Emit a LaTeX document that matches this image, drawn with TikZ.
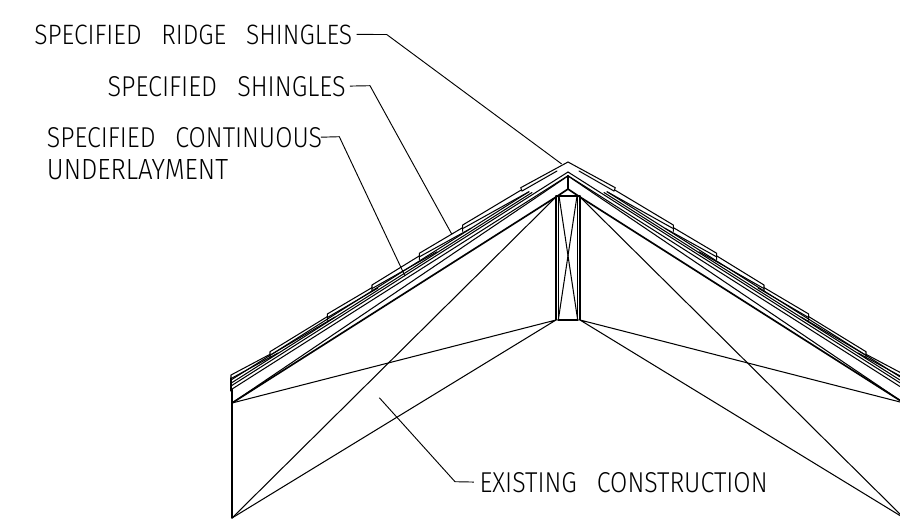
\documentclass[tikz,border=0pt]{standalone}
\usepackage{fontspec}
\usepackage{graphicx}
\setmainfont{Fira Sans Light}
\tikzset{
  px/.style={x=0.75pt,y=-0.75pt},
  thinline/.style={line width=0.78pt,line cap=round,line join=round},
  thickline/.style={line width=1.25pt,line cap=round,line join=round},
  lab/.style={inner sep=0pt,anchor=base west},
  leader/.style={line width=0.7pt,line join=round}
}
\newcommand{\lbl}[3]{\resizebox{#1\dimexpr0.75pt\relax}{#2\dimexpr0.75pt\relax}{#3}}
\newcommand{\wsp}{\hspace{0.8em}}
\newcommand{\halfroof}{%
  % shingles
  \foreach \sx/\sy/\nx/\ny/\ex/\ey in {231/375/270/351.7/278/353,270/351.7/327.3/314/335/317,327.3/314/372/285/378/288,372/285/419.3/253.3/437/251.7,419.3/253.3/462.7/225/471/228.3,462.7/225/520.7/187.7/529/191.7}{
    \draw[thinline] ({\sx},{\sy+3.3+3}) -- (\sx,\sy) -- ({\nx},{\ny+2.6});
    \draw[thinline] ({\sx+0.5},{\sy+3.3}) -- (\ex,\ey);
  }
  \draw[thinline] (522,191) -- (520.7,187.7) -- (568,162);
  \draw[thinline] (522,191) -- (557,171);
  % layers
  \draw[thinline] (568,172) -- (231,386);
  \draw[thinline] (568,175.7) -- (231,389.7);
  \draw[thinline] (231,380) -- (529,191.7);
  \draw[thinline] (231,383.2) -- (532,192.5);
  \draw[thinline] (231,378) -- (231,391);
  % chords
  \draw[thickline] (232,403) -- (556,197) -- (568,189);
  \draw[thinline] (232,403) -- (568,176);
  \draw[thinline] (232,518) -- (556,197);
  \draw[thinline] (232,403) -- (556,320) -- (232,518);
  \draw[thinline] (232,389) -- (232,518);
  % post
  \draw[thinline] (556,196) -- (556,320);
  \draw[thinline] (558.3,196) -- (558.3,320);
  \draw[thinline] (558.3,320) -- (577,196);
}
\begin{document}
\begin{tikzpicture}[px]
\useasboundingbox (0,0) rectangle (900,522);
\clip (0,0) rectangle (900,522);
\halfroof
\begin{scope}[shift={(1136,0)},xscale=-1]
\halfroof
\end{scope}
\draw[thickline] (568,175.7) -- (568,189);
\draw[thinline] (556,196) -- (580,196);
\draw[thickline] (558,320) -- (578,320);
% labels
\node[lab] (ridge) at (34,44) {\lbl{318}{19.5}{SPECIFIED\wsp RIDGE\wsp SHINGLES}};
\node[lab] (shing) at (107.3,96) {\lbl{238}{20}{SPECIFIED\wsp SHINGLES}};
\node[lab] (cont) at (46.7,147) {\lbl{275}{20}{SPECIFIED\wsp CONTINUOUS}};
\node[lab] (under) at (46.7,179) {\lbl{181}{20}{UNDERLAYMENT}};
\node[lab] (exist) at (479.3,492) {\lbl{288}{20}{EXISTING\wsp CONSTRUCTION}};
% leaders
\coordinate (r1) at (386.7,34.5);
\coordinate (r2) at (561.7,164);
\coordinate (s1) at (370,85.7);
\coordinate (s2) at (451.7,234);
\coordinate (c1) at (339.3,136.7);
\coordinate (c2) at (405,276);
\coordinate (e1) at (455,481.7);
\coordinate (e2) at (379.3,397.7);
\draw[leader,shorten <=3pt] (ridge.east) -- (r1) -- (r2);
\draw[leader,shorten <=3pt] (shing.east) -- (s1) -- (s2);
\draw[leader,shorten <=-1pt] (cont.east) -- (c1) -- (c2);
\draw[leader,shorten <=4pt] (exist.west) -- (e1) -- (e2);
\end{tikzpicture}
\end{document}
